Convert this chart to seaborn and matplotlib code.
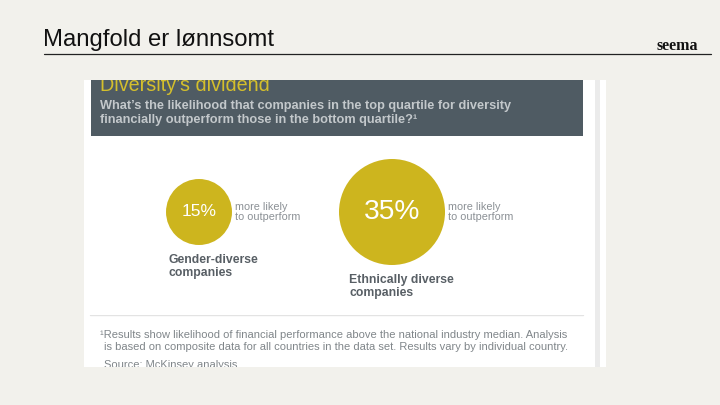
import matplotlib
matplotlib.use("Agg")
import matplotlib.pyplot as plt
import seaborn as sns
import pandas as pd
import numpy as np
from matplotlib.patches import Rectangle
from matplotlib.lines import Line2D

# ---- data ----
categories = ["Gender-diverse\ncompanies", "Ethnically diverse\ncompanies"]
values = [15, 35]
value_labels = ["15%", "35%"]
note_text = "more likely\nto outperform"
page_title = "Mangfold er lønnsomt"
brand = "seema"
chart_title = "Diversity’s dividend"
subtitle_lines = ["What’s the likelihood that companies in the top quartile for diversity",
                  "financially outperform those in the bottom quartile?¹"]
footnote_1 = "¹Results show likelihood of financial performance above the national industry median. Analysis"
footnote_2 = "is based on composite data for all countries in the data set. Results vary by individual country."
source = "Source: McKinsey analysis"

W, H = 720, 405
sns.set_theme(style="white")
plt.rcParams["font.family"] = ["Liberation Sans", "DejaVu Sans"]

fig = plt.figure(figsize=(7.2, 4.05), dpi=100)
fig.patch.set_facecolor("#f2f1ec")


def fx(x):
    return x / W


def fy(y):
    return 1 - y / H


def rect(x0, y0, x1, y1):
    return [fx(x0), fy(y1), (x1 - x0) / W, (y1 - y0) / H]


# page title and rule
fig.text(fx(43), fy(46), page_title, fontsize=17.2, va="baseline", ha="left", color="#111111")
fig.add_artist(Line2D([fx(44), fx(711)], [fy(54), fy(54)], transform=fig.transFigure,
                      color="#222222", lw=0.9))
fig.text(fx(698), fy(50), brand, ha="right", va="baseline", family="Liberation Serif",
         weight="bold", fontsize=11.5, color="#111111")

# white panel
fig.add_artist(Rectangle((fx(84), fy(367)), (606 - 84) / W, (367 - 80) / H,
                         transform=fig.transFigure, facecolor="white", edgecolor="none", zorder=0))
fig.add_artist(Rectangle((fx(595), fy(367)), 5 / W, (367 - 80) / H,
                         transform=fig.transFigure, facecolor="#ebebeb", edgecolor="none", zorder=0))

# header box
hax = fig.add_axes(rect(91, 80, 583, 136))
hax.set_facecolor("#4f5b63")
hax.set_xlim(91, 583)
hax.set_ylim(136, 80)
hax.set_xticks([])
hax.set_yticks([])
for s in hax.spines.values():
    s.set_visible(False)
hax.text(100, 91, chart_title, fontsize=14.2, color="#d4bf2c", va="baseline", ha="left", clip_on=True)
for k, line in enumerate(subtitle_lines):
    hax.text(100, 109 + 14.5 * k, line, fontsize=9.15, weight="bold", color="#c3c8cb",
             va="baseline", ha="left", clip_on=True)

# main bubble axes
ax = fig.add_axes(rect(91, 136, 583, 315))
ax.patch.set_alpha(0)
df = pd.DataFrame({"category": categories, "value": values,
                   "pos": np.arange(len(categories)), "y": np.zeros(len(categories))})
smin, smax = 2257, 5825
sns.scatterplot(data=df, x="pos", y="y", size="value", sizes=(smin, smax), size_norm=(15, 35),
                color="#cdb51e", edgecolor="none", linewidth=0, legend=False, ax=ax, clip_on=False)
ax.set_xlim(-0.5596, 1.9896)
ax.set_ylim(-103, 76)
ax.axis("off")

label_dx = [-31, -43]  # px offset of category label from bubble centre
for i, (cat, v, lab) in enumerate(zip(categories, values, value_labels)):
    s = smin + (v - 15) / 20 * (smax - smin)
    r_pt = np.sqrt(s) / 2
    ax.text(i, 0, lab, ha="center", va="center", color="white", fontsize=r_pt * 0.53)
    ax.annotate(note_text, xy=(i, 0), xytext=(r_pt + 2.0, 0), textcoords="offset points",
                ha="left", va="center", fontsize=7.8, color="#8b9095", linespacing=0.98)
    ax.annotate(cat, xy=(i, 0), xytext=(label_dx[i] * 0.72, -(r_pt + 6.5)), textcoords="offset points",
                ha="left", va="top", fontsize=8.8, weight="bold", color="#585f65", linespacing=1.15)

# footer
fax = fig.add_axes(rect(84, 315, 595, 367))
fax.patch.set_alpha(0)
fax.set_xlim(84, 595)
fax.set_ylim(367, 315)
fax.axis("off")
fax.plot([90, 583], [315.5, 315.5], color="#e3e3e3", lw=1)
fax.text(100, 335, footnote_1, fontsize=8, color="#80868a", va="center", ha="left")
fax.text(104, 347, footnote_2, fontsize=8, color="#80868a", va="center", ha="left")
fax.text(104, 365, source, fontsize=8, color="#80868a", va="center", ha="left", clip_on=True)

fig.savefig("out.png", dpi=100, facecolor=fig.get_facecolor())
